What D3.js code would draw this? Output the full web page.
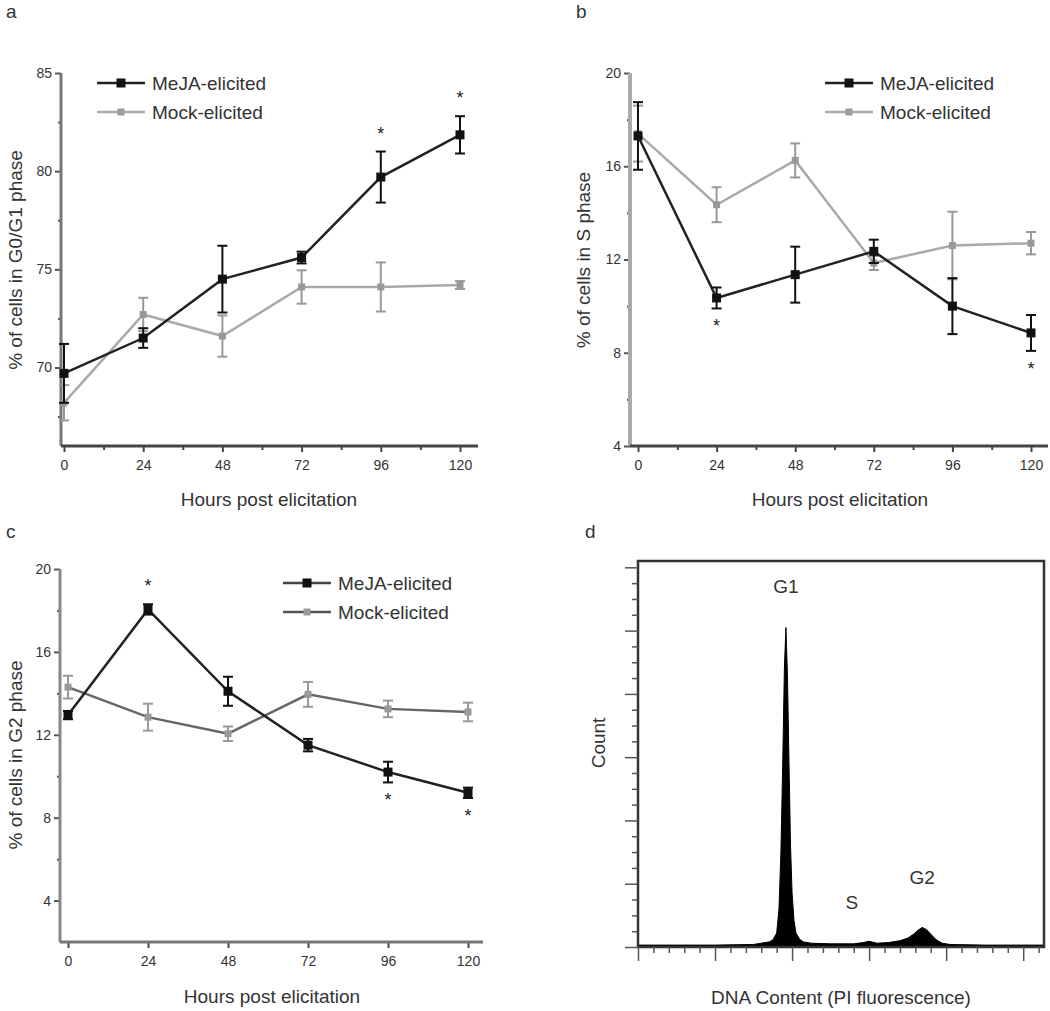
<!DOCTYPE html>
<html><head><meta charset="utf-8">
<script src="https://cdn.jsdelivr.net/npm/d3@7"></script>
<style>
body{margin:0;background:#fff;}
svg text{font-family:"Liberation Sans",Arial,sans-serif;}
</style></head>
<body><svg id="c" width="1050" height="1011"></svg>
<script>
// ---------- DATA ----------
const hours = [0, 24, 48, 72, 96, 120];
const seriesNames = ["MeJA-elicited", "Mock-elicited"];

// panel a: G0/G1
const g1MeJA    = [69.7, 71.5, 74.5, 75.6, 79.7, 81.85];
const g1MeJAErr = [1.5, 0.5, 1.7, 0.3, 1.3, 0.95];
const g1Mock    = [68.2, 72.7, 71.6, 74.1, 74.1, 74.2];
const g1MockErr = [0.9, 0.85, 1.05, 0.85, 1.25, 0.2];
const g1SigHours = [96, 120];
const g1SigSide  = ["up", "up"];

// panel b: S
const sMeJA    = [17.3, 10.35, 11.35, 12.35, 10.0, 8.85];
const sMeJAErr = [1.45, 0.45, 1.2, 0.5, 1.2, 0.77];
const sMock    = [17.4, 14.35, 16.25, 11.85, 12.6, 12.7];
const sMockErr = [1.2, 0.75, 0.73, 0.3, 1.45, 0.48];
const sSigHours = [24, 120];
const sSigSide  = ["down", "down"];

// panel c: G2
const g2MeJA    = [12.95, 18.05, 14.1, 11.5, 10.2, 9.2];
const g2MeJAErr = [0.2, 0.25, 0.7, 0.3, 0.5, 0.25];
const g2Mock    = [14.3, 12.85, 12.05, 13.95, 13.25, 13.1];
const g2MockErr = [0.55, 0.65, 0.35, 0.6, 0.4, 0.45];
const g2SigHours = [24, 96, 120];
const g2SigSide  = ["up", "down", "down"];

// tick labels
const xTickLabels = [0, 24, 48, 72, 96, 120];
const yTicksA = [70, 75, 80, 85];
const yMinorA = [67.5, 72.5, 77.5, 82.5];
const yTicksB = [4, 8, 12, 16, 20];
const yMinorB = [6, 10, 14, 18];
const yTicksC = [4, 8, 12, 16, 20];
const yMinorC = [6, 10, 14, 18];

// panel d: DNA content histogram (channel, count)
const histChannel = [0, 100, 200, 300, 320, 340, 350, 360, 366, 371, 376, 380, 384, 388, 392, 396, 400, 405, 410, 420, 430, 450, 500, 560, 585, 600, 620, 650, 680, 700, 715, 728, 738, 750, 762, 775, 790, 810, 900, 1054];
const histCount   = [3, 3, 3, 4, 6, 8, 11, 22, 60, 150, 300, 440, 505, 430, 290, 160, 85, 42, 22, 12, 8, 6, 5, 5, 7, 9, 6, 7, 10, 14, 20, 27, 31, 27, 19, 11, 6, 4, 3, 3];
const histPeakLabels = ["G1", "S", "G2"];
const histPeakChannel = [384, 555, 738];
const histPeakCount = [560, 60, 100];

// ---------- DRAW ----------
const svg = d3.select("#c");
const FONT = 19;

function lineSeries(g, x, y, vals, errs, color, lineColor, markerSize, lw) {
  const pts = hours.map((h, i) => ({h, v: vals[i], e: errs[i]}));
  g.append("path").datum(pts)
    .attr("fill", "none").attr("stroke", lineColor).attr("stroke-width", lw)
    .attr("d", d3.line().x(d => x(d.h)).y(d => y(d.v)));
  const eb = g.append("g").attr("stroke", color).attr("stroke-width", 2);
  pts.forEach(d => {
    eb.append("line").attr("x1", x(d.h)).attr("x2", x(d.h)).attr("y1", y(d.v - d.e)).attr("y2", y(d.v + d.e));
    eb.append("line").attr("x1", x(d.h) - 5).attr("x2", x(d.h) + 5).attr("y1", y(d.v - d.e)).attr("y2", y(d.v - d.e));
    eb.append("line").attr("x1", x(d.h) - 5).attr("x2", x(d.h) + 5).attr("y1", y(d.v + d.e)).attr("y2", y(d.v + d.e));
  });
  g.selectAll(null).data(pts).enter().append("rect")
    .attr("x", d => x(d.h) - markerSize / 2).attr("y", d => y(d.v) - markerSize / 2)
    .attr("width", markerSize).attr("height", markerSize).attr("fill", color);
}

function panel(cfg) {
  const g = svg.append("g");
  const x = d3.scaleLinear().domain([0, 120]).range(cfg.xr);
  const y = d3.scaleLinear().domain(cfg.yd).range(cfg.yr);
  // axes
  const ya = g.append("g").attr("transform", `translate(${cfg.axX},0)`);
  ya.call(d3.axisLeft(y).tickValues(cfg.yt).tickSize(6).tickSizeOuter(0).tickPadding(3));
  ya.call(s => s.select(".domain").remove());
  ya.selectAll(".tick line").attr("stroke", "#555").attr("stroke-width", 2);
  ya.selectAll(".tick text").attr("font-size", 14).attr("fill", "#333");
  const ym = g.append("g").attr("transform", `translate(${cfg.axX},0)`);
  ym.call(d3.axisLeft(y).tickValues(cfg.ym).tickSize(3).tickFormat(""));
  ym.call(s => s.select(".domain").remove());
  ym.selectAll(".tick line").attr("stroke", "#555").attr("stroke-width", 2);

  const xa = g.append("g").attr("transform", `translate(0,${cfg.axY})`);
  xa.call(d3.axisBottom(x).tickValues(xTickLabels).tickSize(6).tickPadding(8));
  xa.call(s => s.select(".domain").remove());
  xa.selectAll(".tick line").attr("stroke", "#444").attr("stroke-width", 2);
  xa.selectAll(".tick text").attr("font-size", 14).attr("fill", "#333");
  if (cfg.xMinor) {
    const xm = g.append("g").attr("transform", `translate(0,${cfg.axY})`);
    xm.call(d3.axisBottom(x).tickValues(cfg.xMinor).tickSize(4).tickFormat(""));
    xm.call(s => s.select(".domain").remove());
    xm.selectAll(".tick line").attr("stroke", "#444").attr("stroke-width", 2);
  }
  g.append("line").attr("x1", cfg.axX).attr("x2", cfg.axX).attr("y1", cfg.yr[1]).attr("y2", cfg.axY)
    .attr("stroke", cfg.yAxColor).attr("stroke-width", cfg.yAxW);
  g.append("line").attr("x1", cfg.axX).attr("x2", cfg.axRight).attr("y1", cfg.axY).attr("y2", cfg.axY)
    .attr("stroke", cfg.xAxColor).attr("stroke-width", 3);

  // series
  lineSeries(g, x, y, cfg.mock, cfg.mockErr, cfg.mockColor, cfg.mockLine, 7, 2.5);
  lineSeries(g, x, y, cfg.meja, cfg.mejaErr, "#111", "#222", 9, 2.5);

  // significance
  cfg.sigH.forEach((h, i) => {
    const idx = hours.indexOf(h);
    const v = cfg.meja[idx], e = cfg.mejaErr[idx];
    const yy = cfg.sigS[i] === "up" ? y(v + e) - 12 : y(v - e) + 24;
    g.append("text").attr("x", x(h)).attr("y", yy).attr("text-anchor", "middle")
      .attr("font-size", 18).attr("fill", "#222").text("*");
  });

  // legend
  const lg = g.append("g");
  [["#222", "#111", 9, cfg.legLine0], [cfg.legLine1, cfg.mockColor, 7, cfg.legLine1]].forEach((c, i) => {
    const ly = cfg.leg[1] + i * 29;
    lg.append("line").attr("x1", cfg.leg[0]).attr("x2", cfg.leg[0] + 48).attr("y1", ly).attr("y2", ly)
      .attr("stroke", c[3]).attr("stroke-width", 2.5);
    lg.append("rect").attr("x", cfg.leg[0] + 24 - c[2] / 2).attr("y", ly - c[2] / 2)
      .attr("width", c[2]).attr("height", c[2]).attr("fill", c[1]);
    lg.append("text").attr("x", cfg.leg[0] + 55).attr("y", ly + 7).attr("font-size", FONT)
      .attr("fill", "#333").text(seriesNames[i]);
  });

  // titles
  g.append("text").attr("x", cfg.xTitle[0]).attr("y", cfg.xTitle[1]).attr("text-anchor", "middle")
    .attr("font-size", FONT).attr("fill", "#333").text("Hours post elicitation");
  g.append("text").attr("transform", `translate(${cfg.yTitle[0]},${cfg.yTitle[1]}) rotate(-90)`)
    .attr("text-anchor", "middle").attr("font-size", FONT).attr("fill", "#333").text(cfg.yLabel);
  g.append("text").attr("x", cfg.letter[0]).attr("y", cfg.letter[1]).attr("font-size", FONT)
    .attr("fill", "#333").text(cfg.letterText);
}

panel({
  xr: [64, 460], yd: [66, 85], yr: [446, 73], axX: 61, axY: 446, axRight: 478,
  yt: yTicksA, ym: yMinorA, xMinor: [12, 36, 60, 84, 108],
  yAxColor: "#777", yAxW: 3, xAxColor: "#444",
  meja: g1MeJA, mejaErr: g1MeJAErr, mock: g1Mock, mockErr: g1MockErr,
  mockColor: "#999", mockLine: "#aaa",
  sigH: g1SigHours, sigS: g1SigSide,
  leg: [97, 83], legLine0: "#222", legLine1: "#aaa",
  xTitle: [269, 506], yTitle: [22, 260], yLabel: "% of cells in G0/G1 phase",
  letter: [6, 18], letterText: "a"
});
panel({
  xr: [638, 1031], yd: [4, 20], yr: [446, 73], axX: 630, axY: 446, axRight: 1048,
  yt: yTicksB, ym: yMinorB, xMinor: [12, 36, 60, 84, 108],
  yAxColor: "#aaa", yAxW: 4, xAxColor: "#444",
  meja: sMeJA, mejaErr: sMeJAErr, mock: sMock, mockErr: sMockErr,
  mockColor: "#999", mockLine: "#aaa",
  sigH: sSigHours, sigS: sSigSide,
  leg: [825, 83], legLine0: "#222", legLine1: "#aaa",
  xTitle: [840, 506], yTitle: [590, 260], yLabel: "% of cells in S phase",
  letter: [576, 18], letterText: "b"
});
panel({
  xr: [68, 468], yd: [2, 20], yr: [942, 569], axX: 60, axY: 942, axRight: 483,
  yt: yTicksC, ym: yMinorC, xMinor: null,
  yAxColor: "#888", yAxW: 3, xAxColor: "#777",
  meja: g2MeJA, mejaErr: g2MeJAErr, mock: g2Mock, mockErr: g2MockErr,
  mockColor: "#999", mockLine: "#666",
  sigH: g2SigHours, sigS: g2SigSide,
  leg: [283, 583], legLine0: "#444", legLine1: "#555",
  xTitle: [272, 1003], yTitle: [22, 755], yLabel: "% of cells in G2 phase",
  letter: [6, 538], letterText: "c"
});

// panel d
(function () {
  const g = svg.append("g");
  const x = d3.scaleLinear().domain([0, 1054]).range([638, 1044]);
  const y = d3.scaleLinear().domain([0, 610]).range([947, 561]);
  const pts = histChannel.map((c, i) => ({c, n: histCount[i]}));
  g.append("path").datum(pts).attr("fill", "#000").attr("stroke", "#000").attr("stroke-width", 1)
    .attr("d", d3.area().x(d => x(d.c)).y0(y(0)).y1(d => y(d.n)));
  g.append("path").attr("d", "M638,561H1044V947H638Z")
    .attr("fill", "none").attr("stroke", "#333").attr("stroke-width", 2.5);
  const ya = g.append("g").attr("transform", "translate(638,0)");
  ya.call(d3.axisLeft(y).tickValues(d3.range(0, 601, 100)).tickSize(13).tickFormat(""));
  ya.call(s => s.select(".domain").remove());
  ya.selectAll(".tick line").attr("stroke", "#555").attr("stroke-width", 1.5);
  const ym = g.append("g").attr("transform", "translate(638,0)");
  ym.call(d3.axisLeft(y).tickValues(d3.range(25, 610, 25).filter(v => v % 100)).tickSize(6).tickFormat(""));
  ym.call(s => s.select(".domain").remove());
  ym.selectAll(".tick line").attr("stroke", "#555").attr("stroke-width", 1.5);
  const xa = g.append("g").attr("transform", "translate(0,947)");
  xa.call(d3.axisBottom(x).tickValues(d3.range(0, 1054, 200)).tickSize(14).tickFormat(""));
  xa.call(s => s.select(".domain").remove());
  xa.selectAll(".tick line").attr("stroke", "#555").attr("stroke-width", 1.5);
  const xm = g.append("g").attr("transform", "translate(0,947)");
  xm.call(d3.axisBottom(x).tickValues(d3.range(40, 1054, 40).filter(v => v % 200)).tickSize(6).tickFormat(""));
  xm.call(s => s.select(".domain").remove());
  xm.selectAll(".tick line").attr("stroke", "#555").attr("stroke-width", 1.5);

  histPeakLabels.forEach((t, i) => {
    g.append("text").attr("x", x(histPeakChannel[i])).attr("y", y(histPeakCount[i]))
      .attr("text-anchor", "middle").attr("font-size", FONT).attr("fill", "#333").text(t);
  });
  g.append("text").attr("x", 841).attr("y", 1004).attr("text-anchor", "middle")
    .attr("font-size", FONT).attr("fill", "#333").text("DNA Content (PI fluorescence)");
  g.append("text").attr("transform", "translate(605,743) rotate(-90)").attr("text-anchor", "middle")
    .attr("font-size", FONT).attr("fill", "#333").text("Count");
  g.append("text").attr("x", 585).attr("y", 538).attr("font-size", FONT).attr("fill", "#333").text("d");
})();
</script></body></html>
